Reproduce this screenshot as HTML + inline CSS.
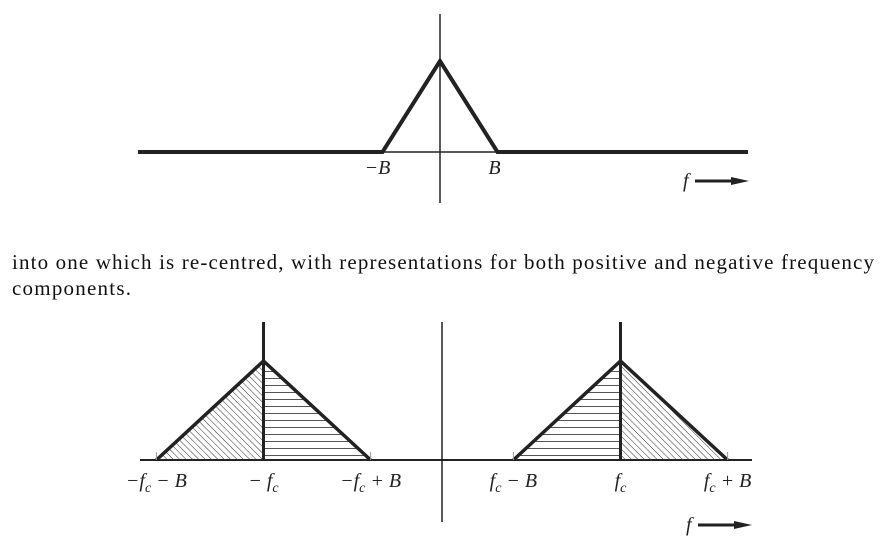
<!DOCTYPE html>
<html><head><meta charset="utf-8"><style>
body{margin:0;background:#fff;width:893px;height:539px;overflow:hidden}
svg{display:block}
.t{font-family:"Liberation Serif",serif;font-size:21px;fill:#111}
.l{font-family:"Liberation Serif",serif;font-style:italic;font-size:20px;fill:#222}
</style></head><body>
<svg id="c" width="893" height="539">
<defs>
<pattern id="hz" width="6" height="7" patternUnits="userSpaceOnUse"><line x1="0" y1="0.5" x2="6" y2="0.5" stroke="#555" stroke-width="1"/></pattern>
<pattern id="dg" width="4.5" height="4.5" patternUnits="userSpaceOnUse" patternTransform="rotate(-45)"><line x1="0" y1="0" x2="0" y2="4.5" stroke="#333" stroke-width="1"/></pattern>
</defs>
<text class="t" x="12" y="269" textLength="862" lengthAdjust="spacing">into one which is re-centred, with representations for both positive and negative frequency</text>
<text class="t" x="12" y="295" textLength="119" lengthAdjust="spacing">components.</text>
</svg>
<script>
// top chart data (frequency units: B = 1)
const topPeak = [0, 1];
const topBand = [-1, 1];
const topLabels = ["\u2212B", "B"];
// bottom chart data (fc = 1, B = 0.6)
const fcCenters = [-1, 1];
const bw = 0.6;
const bottomTicks = [-1.6, -1, -0.4, 0.4, 1, 1.6];
const bottomLabels = ["\u2212f c \u2212 B", "\u2212 f c", "\u2212f c + B", "f c \u2212 B", "f c", "f c + B"];

const svg = document.getElementById('c');
const NS = 'http://www.w3.org/2000/svg';
function mk(tag, a, parent){const e=document.createElementNS(NS,tag);for(const k in a)e.setAttribute(k,a[k]);(parent||svg).appendChild(e);return e;}

const tx = v => 440 + v*57.5, ty = v => 152 - v*91;
let e;
e=mk('line',{x1:440,y1:14,x2:440,y2:203,stroke:'#222','stroke-width':1.5});


e=mk('line',{x1:tx(topBand[0]),y1:152,x2:tx(topBand[1]),y2:152,stroke:'#222','stroke-width':1.5});


e=mk('path',{d:`M138 152 H${tx(topBand[0])} L${tx(topPeak[0])} ${ty(topPeak[1])} L${tx(topBand[1])} 152 H748`,fill:'none',stroke:'#222','stroke-width':4,'stroke-linejoin':'miter'});


topBand.forEach((v,i)=>{
  const t=mk('text',{class:'l',x:tx(v)+(i?-3:-5),y:174,'text-anchor':'middle'});
  t.textContent=topLabels[i];
  
  
});
function arrow(x,y,name){
  const g=mk('g',{});
  
  
  const t=mk('text',{class:'l',x:x,y:y+6},g);t.textContent='f';
  mk('line',{x1:x+12,y1:y,x2:x+50,y2:y,stroke:'#222','stroke-width':3},g);
  mk('path',{d:`M${x+48} ${y-4} L${x+66} ${y} L${x+48} ${y+4}Z`,fill:'#222'},g);
}
arrow(683,181,'top-frequency-arrow');

const bx = v => 442 + v*178.5, by = v => 460 - v*99;
e=mk('line',{x1:442,y1:322,x2:442,y2:522,stroke:'#222','stroke-width':1.5});


e=mk('line',{x1:140,y1:460,x2:752,y2:460,stroke:'#222','stroke-width':2});


fcCenters.forEach((c,i)=>{
  const l=bx(c-bw), m=bx(c), r=bx(c+bw), p=by(1);
  const leftFill = c<0 ? 'url(#dg)' : 'url(#hz)';
  const rightFill = c<0 ? 'url(#hz)' : 'url(#dg)';
  let a=mk('path',{d:`M${l} 460 L${m} ${p} L${m} 460Z`,fill:leftFill});
  
  
  a=mk('path',{d:`M${m} ${p} L${r} 460 L${m} 460Z`,fill:rightFill});
  
  
  a=mk('path',{d:`M${l} 460 L${m} ${p} L${r} 460`,fill:'none',stroke:'#222','stroke-width':3.5});
  
  
  a=mk('line',{x1:m,y1:322,x2:m,y2:460,stroke:'#222','stroke-width':3});
  
  
});
bottomTicks.forEach((v,i)=>{
  if(Math.abs(v)!==1){
    const k=mk('line',{x1:bx(v),y1:452,x2:bx(v),y2:460,stroke:'#999','stroke-width':1});
    
    
  }
  const parts=bottomLabels[i].split(' c');
  const t=mk('text',{class:'l',x:bx(v),y:487,'text-anchor':'middle'});
  
  
  const s1=mk('tspan',{},t);s1.textContent=parts[0];
  const s2=mk('tspan',{dy:5,'font-size':14},t);s2.textContent='c';
  const s3=mk('tspan',{dy:-5},t);s3.textContent=parts[1];
});
arrow(686,525,'bottom-frequency-arrow');
</script>
</body></html>
